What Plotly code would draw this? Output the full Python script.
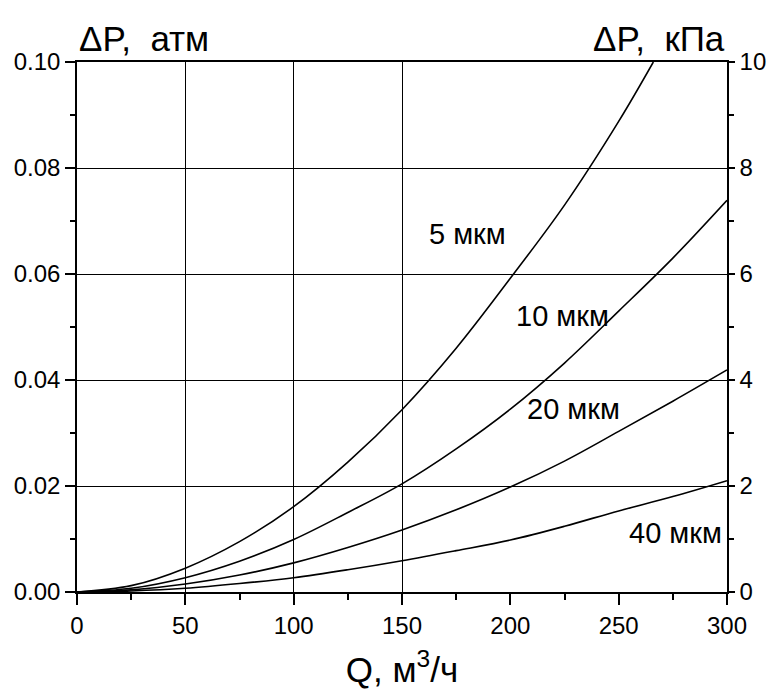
import plotly.graph_objects as go

# Flow rate Q, m^3/h
q = [0, 25, 50, 75, 100, 125, 150, 175, 200, 225, 250, 275, 300]
q_5 = [0, 25, 50, 75, 100, 125, 150, 175, 200, 225, 250, 266]

# Pressure drop, atm
dp_5um = [0, 0.0012, 0.0045, 0.0095, 0.0161, 0.0245, 0.0344, 0.0460, 0.0592, 0.0730, 0.0888, 0.100]
dp_10um = [0, 0.0007, 0.0027, 0.0058, 0.0099, 0.0150, 0.0204, 0.0270, 0.0345, 0.0432, 0.0530, 0.0630, 0.0739]
dp_20um = [0, 0.0004, 0.0015, 0.0032, 0.0055, 0.0084, 0.0117, 0.0155, 0.0198, 0.0247, 0.0303, 0.0360, 0.0419]
dp_40um = [0, 0.0002, 0.0007, 0.0016, 0.0027, 0.0042, 0.0059, 0.0078, 0.0098, 0.0124, 0.0153, 0.0180, 0.0210]

labels = ["5 мкм", "10 мкм", "20 мкм", "40 мкм"]
label_q = [180, 224, 229, 276]
label_dp = [0.0675, 0.052, 0.0346, 0.0112]

x_ticks = [0, 50, 100, 150, 200, 250, 300]
x_grid = [50, 100, 150]
y_ticks = [0.00, 0.02, 0.04, 0.06, 0.08, 0.10]
y2_ticks = [0, 2, 4, 6, 8, 10]

FONT = "Liberation Sans, Arial, sans-serif"

fig = go.Figure()
for qq, dp in [(q_5, dp_5um), (q, dp_10um), (q, dp_20um), (q, dp_40um)]:
    fig.add_trace(go.Scatter(x=qq, y=dp, mode="lines", line=dict(color="black", width=1.6, shape="spline"),
                             showlegend=False, hoverinfo="skip"))
# empty traces to bind the helper axes
fig.add_trace(go.Scatter(x=[None], y=[None], xaxis="x2", yaxis="y", showlegend=False, hoverinfo="skip"))
fig.add_trace(go.Scatter(x=[None], y=[None], xaxis="x", yaxis="y2", showlegend=False, hoverinfo="skip"))

for t, lx, ly in zip(labels, label_q, label_dp):
    fig.add_annotation(x=lx, y=ly, text=t, showarrow=False, font=dict(family=FONT, size=29, color="black"))

fig.add_annotation(xref="paper", yref="paper", x=0, y=1.0, yshift=2, xanchor="left", yanchor="bottom",
                   text="ΔP,\u00a0 атм", showarrow=False, font=dict(family=FONT, size=35, color="black"))
fig.add_annotation(xref="paper", yref="paper", x=1.0, y=1.0, yshift=2, xanchor="right", yanchor="bottom",
                   text="ΔP,\u00a0 кПа", showarrow=False, font=dict(family=FONT, size=35, color="black"))

fig.update_layout(
    width=771, height=700,
    margin=dict(l=77, r=44, t=62, b=108, autoexpand=False),
    paper_bgcolor="white", plot_bgcolor="white",
    font=dict(family=FONT, color="black"),
    xaxis=dict(range=[0, 300], tickvals=x_ticks, showgrid=False, zeroline=False, automargin=False,
               showline=True, linecolor="black", linewidth=1.5, mirror=True,
               ticks="outside", ticklen=11, tickwidth=1.5, tickcolor="black",
               minor=dict(dtick=25, ticks="outside", ticklen=6, tickwidth=1.5, tickcolor="black", showgrid=False),
               tickfont=dict(size=24),
               title=dict(text="Q, м<sup>3</sup>/ч", font=dict(size=35), standoff=20)),
    xaxis2=dict(range=[0, 300], overlaying="x", anchor="y", tickvals=x_grid, showticklabels=False,
                automargin=False,
                ticks="", showgrid=True, gridcolor="black", gridwidth=1, showline=False, zeroline=False),
    yaxis=dict(range=[0, 0.10], tickvals=y_ticks, tickformat=".2f", showgrid=True, gridcolor="black",
               automargin=False,
               gridwidth=1, zeroline=False, showline=True, linecolor="black", linewidth=1.5,
               ticks="outside", ticklen=10, tickwidth=1.5, tickcolor="black",
               minor=dict(dtick=0.01, ticks="outside", ticklen=5, tickwidth=1.5, tickcolor="black", showgrid=False),
               tickfont=dict(size=24)),
    yaxis2=dict(range=[0, 10], overlaying="y", side="right", anchor="x", tickvals=y2_ticks,
                automargin=False,
                showgrid=False, zeroline=False, showline=True, linecolor="black", linewidth=1.5,
                ticks="outside", ticklen=6, tickwidth=1.5, tickcolor="black",
                minor=dict(dtick=1, ticks="outside", ticklen=5, tickwidth=1.5, tickcolor="black"),
                tickfont=dict(size=24)),
)

fig.write_html("out.html", config={"responsive": False, "displayModeBar": False},
               post_script="document.body.style.margin='0';document.body.style.overflow='hidden';")
